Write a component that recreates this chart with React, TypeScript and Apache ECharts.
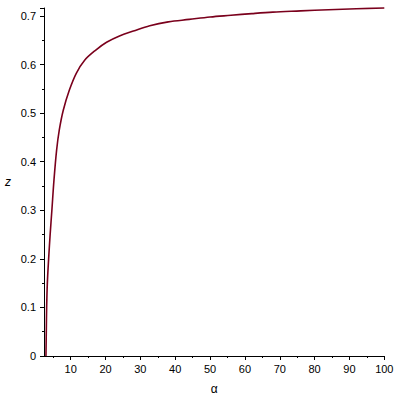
import React, { useEffect, useRef } from "react";
import * as echarts from "echarts";

const alphaValues = [2.9, 3.0, 3.1, 3.3, 3.67, 4.1, 4.6, 5.2, 5.96, 6.72, 7.87, 9.6, 11.6, 14.0, 17.2, 20.3, 24, 28, 32.7, 38, 44, 50, 56, 62, 68, 76, 84, 92, 100];
const zValues = [0, 0.05, 0.1, 0.15, 0.2, 0.25, 0.3, 0.362, 0.424, 0.465, 0.506, 0.547, 0.582, 0.609, 0.63, 0.646, 0.659, 0.669, 0.68, 0.688, 0.693, 0.698, 0.7015, 0.705, 0.708, 0.7105, 0.713, 0.715, 0.7167];
const xMajorTicks = [10, 20, 30, 40, 50, 60, 70, 80, 90, 100];
const xMinorTicks = [5, 15, 25, 35, 45, 55, 65, 75, 85, 95];

export default function App() {
  const ref = useRef<HTMLDivElement>(null);
  useEffect(() => {
    if (!ref.current) return;
    const chart = echarts.init(ref.current, null, { renderer: "svg" });
    const font = "Liberation Sans";
    chart.setOption({
      animation: false,
      backgroundColor: "#ffffff",
      grid: { left: 44, right: 15.7, top: 8, bottom: 44 },
      xAxis: [
        {
          type: "value",
          min: 2.34,
          max: 100,
          name: "α",
          nameLocation: "middle",
          nameGap: 27,
          nameTextStyle: { color: "#000", fontFamily: font, fontSize: 12 },
          axisLine: { show: true, onZero: false, lineStyle: { color: "#000", width: 1 } },
          axisTick: { show: true, customValues: xMajorTicks, length: 4, lineStyle: { color: "#000" } },
          axisLabel: { customValues: xMajorTicks, color: "#000", fontFamily: font, fontSize: 11, margin: 7 },
          splitLine: { show: false },
        },
        {
          type: "value",
          min: 2.34,
          max: 100,
          position: "bottom",
          axisLine: { show: false, onZero: false },
          axisTick: { show: true, customValues: xMinorTicks, length: 2, lineStyle: { color: "#000" } },
          axisLabel: { show: false },
          splitLine: { show: false },
        },
      ],
      yAxis: {
        type: "value",
        min: 0,
        max: 0.7165,
        interval: 0.1,
        name: "z",
        nameLocation: "middle",
        nameGap: 33,
        nameRotate: 0,
        nameTextStyle: { color: "#000", fontFamily: font, fontSize: 12, fontStyle: "italic" },
        axisLine: { show: true, onZero: false, lineStyle: { color: "#000", width: 1 } },
        axisTick: { show: true, length: 4, lineStyle: { color: "#000" } },
        minorTick: { show: true, splitNumber: 2, length: 2, lineStyle: { color: "#000" } },
        axisLabel: { color: "#000", fontFamily: font, fontSize: 11, margin: 8, showMaxLabel: false },
        splitLine: { show: false },
      },
      series: [
        {
          type: "line",
          xAxisIndex: 0,
          data: alphaValues.map((a, i) => [a, zValues[i]]),
          showSymbol: false,
          smooth: 0.35,
          lineStyle: { color: "#7a001c", width: 1.6 },
        },
      ],
    });
    return () => chart.dispose();
  }, []);
  return <div ref={ref} style={{ width: 400, height: 400, position: "fixed", left: 0, top: 0 }} />;
}
